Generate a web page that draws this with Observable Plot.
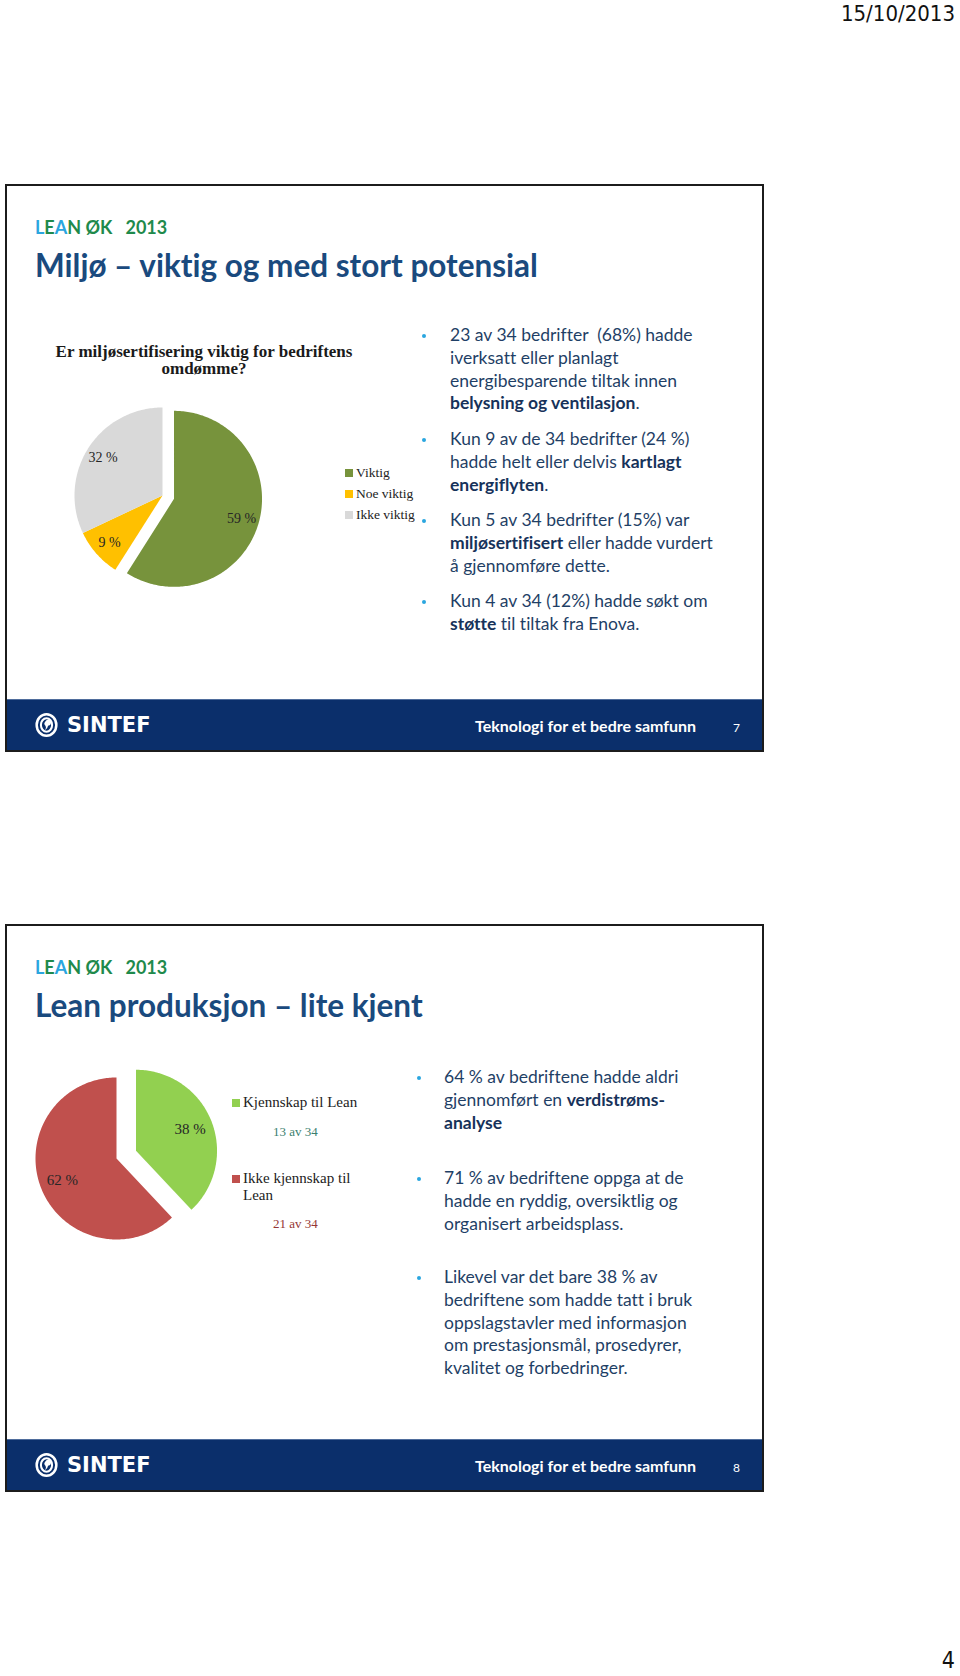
<!DOCTYPE html>
<html><head><meta charset="utf-8">
<script src="https://cdn.jsdelivr.net/npm/d3@7"></script>
<script src="https://cdn.jsdelivr.net/npm/@observablehq/plot@0.6"></script>
<style>
body{margin:0;background:#fff;}
#page{position:relative;width:960px;height:1676px;overflow:hidden;font-family:Lato,"Open Sans",sans-serif;background:#fff;font-variant-ligatures:none;font-feature-settings:"liga" 0,"clig" 0;}
.abs{position:absolute;white-space:nowrap;}
.slide{position:absolute;left:5px;width:755px;height:564px;border:2px solid #1c1c1c;background:#fff;}
.footer{position:absolute;left:0;right:0;bottom:0;height:50px;background:#0b2f6b;border-top:1px solid #4f6d9c;}
.lean{font-weight:700;font-size:18px;color:#1f8a4c;}
.lean .b{color:#2aa6df;}
.title{font-weight:700;font-size:31.5px;color:#1a4a7e;}
.bul{font-size:17.5px;line-height:22.8px;color:#1f3f66;}
.bul b{color:#16325a;}
.dot{position:absolute;width:4px;height:4px;border-radius:50%;background:#2aa6df;}
.foot{color:#fff;font-weight:700;font-size:16px;}
.sintef{color:#fff;font-weight:700;font-size:21px;font-family:"DejaVu Sans",sans-serif;}
.serif{font-family:"Liberation Serif","Times New Roman",serif;color:#222;}
.sq{position:absolute;width:8px;height:8px;}
</style></head>
<body><div id="page"></div>
<script>
// ---- data ----
const pie1Title = ["Er miljøsertifisering viktig for bedriftens", "omdømme?"];
const pie1Categories = ["Viktig", "Noe viktig", "Ikke viktig"];
const pie1Values = [59, 9, 32];
const pie1Colors = ["#77933c", "#ffc000", "#d9d9d9"];

const pie2Categories = ["Kjennskap til Lean", "Ikke kjennskap til Lean"];
const pie2Values = [38, 62];
const pie2Counts = ["13 av 34", "21 av 34"];
const pie2Colors = ["#92d050", "#c0504d"];
const pie2CountColors = ["#3b7f6f", "#953735"];

const slide1Title = "Miljø – viktig og med stort potensial";
const slide2Title = "Lean produksjon – lite kjent";
const slide1Bullets = [
  ["23 av 34 bedrifter&nbsp; (68%) hadde", "iverksatt eller planlagt", "energibesparende tiltak innen", "<b>belysning og ventilasjon</b>."],
  ["Kun 9 av de 34 bedrifter (24 %)", "hadde helt eller delvis <b>kartlagt</b>", "<b>energiflyten</b>."],
  ["Kun 5 av 34 bedrifter (15%) var", "<b>miljøsertifisert</b> eller hadde vurdert", "å gjennomføre dette."],
  ["Kun 4 av 34 (12%) hadde søkt om", "<b>støtte</b> til tiltak fra Enova."]
];
const slide2Bullets = [
  ["64 % av bedriftene hadde aldri", "gjennomført en <b>verdistrøms-</b>", "<b>analyse</b>"],
  ["71 % av bedriftene oppga at de", "hadde en ryddig, oversiktlig og", "organisert arbeidsplass."],
  ["Likevel var det bare 38 % av", "bedriftene som hadde tatt i bruk", "oppslagstavler med informasjon", "om prestasjonsmål, prosedyrer,", "kvalitet og forbedringer."]
];
const footerText = "Teknologi for et bedre samfunn";
const dateText = "15/10/2013";
const pageNumber = "4";

// ---- helpers ----
const page = document.getElementById("page");
function el(tag, cls, style, html) {
  const e = document.createElement(tag);
  if (cls) e.className = cls;
  if (style) e.setAttribute("style", style);
  if (html != null) e.innerHTML = html;
  page.appendChild(e);
  return e;
}

el("div", "abs", "right:5px;top:1px;font-size:22px;line-height:25px;color:#111;font-family:'Liberation Sans Narrow','DejaVu Sans Condensed',sans-serif;", dateText);
el("div", "abs", "right:5px;top:1647px;font-size:23px;line-height:26px;color:#111;font-family:'Liberation Sans Narrow','DejaVu Sans Condensed',sans-serif;", pageNumber);

const logoSvg = `<svg width="23" height="24" viewBox="-10 -10.5 20 21" style="display:block"><ellipse cx="0" cy="0" rx="8.6" ry="9.4" fill="none" stroke="#fff" stroke-width="2.2"/><ellipse cx="0" cy="0" rx="4.9" ry="5.9" fill="none" stroke="#fff" stroke-width="1.8"/><path d="M-1,-3 a2.6,2.6 0 1 1 2.4,3.6 q-0.4,2.4 -2.6,4 q1.2,-2.6 0.4,-3.8 a2.6,2.6 0 0 1 -0.2,-3.8z" fill="#fff"/></svg>`;

function slideFrame(dy, num, title) {
  const s = el("div", "slide", `top:${184 + dy}px;`);
  const f = document.createElement("div"); f.className = "footer"; s.appendChild(f);
  el("div", "abs lean", `left:35px;top:${216 + dy}px;`, `<span class="b">L</span>E<span class="b">A</span>N ØK &nbsp; 2013`);
  el("div", "abs title", `left:35px;top:${246 + dy}px;`, title);
  el("div", "abs", `left:35px;top:${713 + dy}px;display:flex;align-items:center;gap:9px;`, logoSvg + `<span class="sintef">SINTEF</span>`);
  el("div", "abs foot", `left:475px;top:${716 + dy}px;`, footerText);
  el("div", "abs foot", `left:733px;top:${720 + dy}px;font-weight:400;font-size:12px;`, num);
}

function bullets(list, x, dotX, tops) {
  list.forEach((lines, i) => {
    el("div", "abs bul", `left:${x}px;top:${tops[i]}px;`, lines.join("<br>"));
    el("div", "dot", `left:${dotX - 2}px;top:${tops[i] + 10}px;`);
  });
}

slideFrame(0, "7", slide1Title);
slideFrame(740, "8", slide2Title);
bullets(slide1Bullets, 450, 424, [324, 428, 509, 590]);
bullets(slide2Bullets, 444, 419, [1066, 1167, 1266]);

// ---- pies ----
function pieMarks(values, colors, explodeIndex, explodeDist, labelFrac, fontSize) {
  const arcs = d3.pie().sort(null)(values);
  const marks = [];
  const labels = [];
  arcs.forEach((a, i) => {
    const m = (a.startAngle + a.endAngle) / 2;
    const e = i === explodeIndex ? explodeDist : 0;
    const ox = e * Math.sin(m), oy = e * Math.cos(m);
    const pts = [{x: ox, y: oy}];
    const n = Math.max(2, Math.ceil((a.endAngle - a.startAngle) / (Math.PI / 180)));
    for (let k = 0; k <= n; k++) {
      const t = a.startAngle + (a.endAngle - a.startAngle) * k / n;
      pts.push({x: ox + Math.sin(t), y: oy + Math.cos(t)});
    }
    pts.push({x: ox, y: oy});
    marks.push(Plot.line(pts, {x: "x", y: "y", fill: colors[i], stroke: "none", curve: "linear"}));
    labels.push({x: ox + labelFrac * Math.sin(m), y: oy + labelFrac * Math.cos(m), text: `${values[i]} %`});
  });
  marks.push(Plot.text(labels, {x: "x", y: "y", text: "text", fontSize, fontFamily: "Liberation Serif", fill: "#262626"}));
  return marks;
}
function piePlot({left, top, W, H, cx, cy, R, marks}) {
  const p = Plot.plot({
    width: W, height: H, margin: 0,
    x: {domain: [-cx / R, (W - cx) / R], axis: null},
    y: {domain: [-(H - cy) / R, cy / R], axis: null},
    style: {background: "transparent", overflow: "visible"},
    marks
  });
  const wrap = el("div", "abs", `left:${left}px;top:${top}px;width:${W}px;height:${H}px;`);
  wrap.appendChild(p);
}

piePlot({left: 40, top: 395, W: 270, H: 200, cx: 122, cy: 100, R: 88,
  marks: pieMarks(pie1Values, pie1Colors, 0, 12 / 88, 0.8, 14)});
piePlot({left: 20, top: 1060, W: 220, H: 190, cx: 96, cy: 98, R: 81,
  marks: pieMarks(pie2Values, pie2Colors, 0, 21 / 81, 0.72, 15)});

// chart 1 title and legend
el("div", "abs serif", `left:24px;top:344px;width:360px;text-align:center;font-weight:700;font-size:17px;line-height:16.5px;color:#1a1a1a;`, pie1Title.join("<br>"));
pie1Categories.forEach((c, i) => {
  const cyy = 473 + i * 21;
  el("div", "sq", `left:345px;top:${cyy - 4}px;background:${pie1Colors[i]};`);
  el("div", "abs serif", `left:356px;top:${cyy - 9}px;font-size:13.5px;line-height:17px;`, c);
});
// chart 2 legend
const leg2Y = [1103, 1179];
const cnt2Y = [1132, 1224];
pie2Categories.forEach((c, i) => {
  el("div", "sq", `left:232px;top:${leg2Y[i] - 4}px;background:${pie2Colors[i]};`);
  el("div", "abs serif", `left:243px;top:${leg2Y[i] - 9}px;font-size:15px;line-height:16.5px;white-space:normal;width:122px;`, c);
  el("div", "abs serif", `left:273px;top:${cnt2Y[i] - 8}px;font-size:13px;line-height:16px;color:${pie2CountColors[i]};`, pie2Counts[i]);
});
</script></body></html>
